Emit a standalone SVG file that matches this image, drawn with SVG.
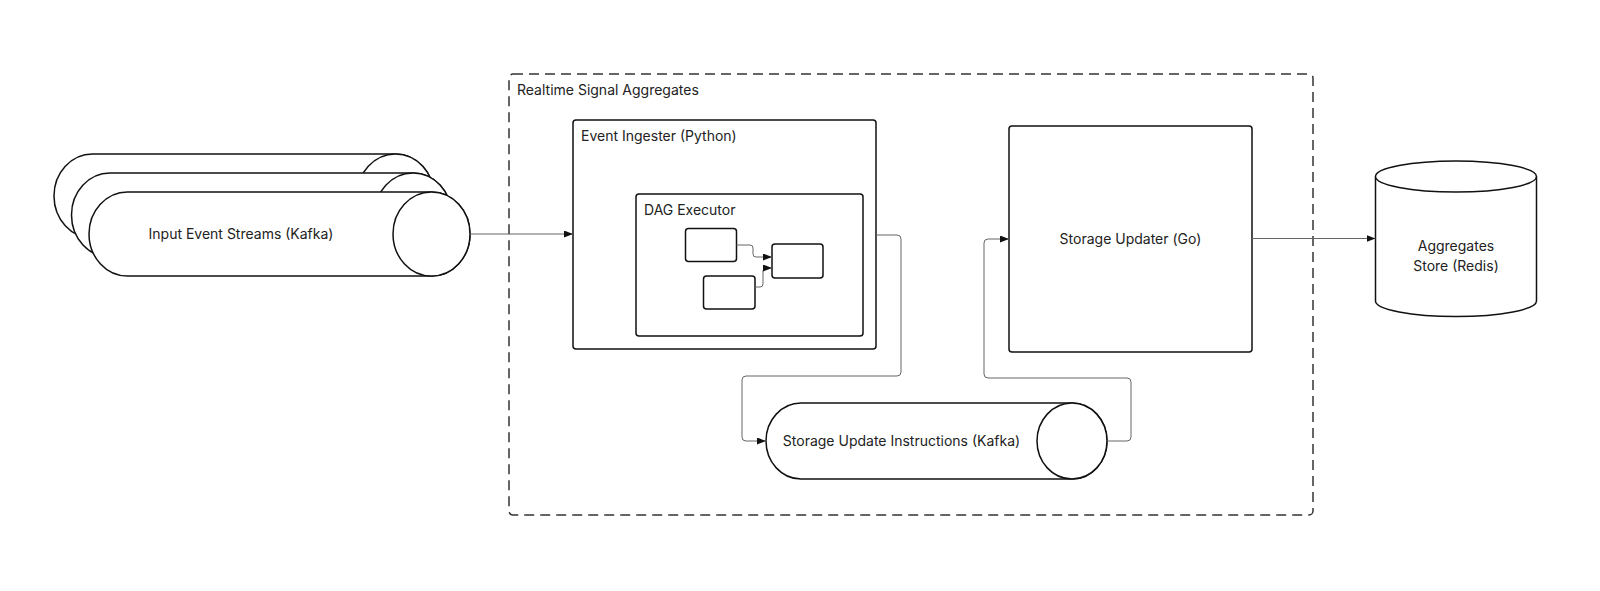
<svg xmlns="http://www.w3.org/2000/svg" width="1600" height="591" viewBox="0 0 1600 591">
  <defs>
    <style>
      .node { fill: #ffffff; stroke: #111111; stroke-width: 1.5; }
      .group { fill: none; stroke: #333333; stroke-width: 1.5; stroke-dasharray: 10 6; }
      .conn { fill: none; stroke: #666666; stroke-width: 1; }
      .lbl { font-family: Inter, "Liberation Sans", sans-serif; font-size: 14px; fill: #222222; }
      .mid { text-anchor: middle; }
    </style>
    <marker id="arrow" markerUnits="userSpaceOnUse" markerWidth="9" markerHeight="7" refX="9" refY="3.5" orient="auto">
      <path d="M0,0 L9,3.5 L0,7 Z" fill="#111111"/>
    </marker>
  </defs>
  <rect width="1600" height="591" fill="#ffffff"/>

  <g id="group-realtime">
    <rect class="group" x="509" y="74" width="804" height="441" rx="4"/>
    <text class="lbl" x="517" y="94.5">Realtime Signal Aggregates</text>
  </g>

  <g id="input-streams">
    <path class="node" d="M92.5,154 H395.5 A38.5,42 0 0 1 395.5,238 H92.5 A38.5,42 0 0 1 92.5,154 Z"/>
    <ellipse class="node" cx="395.5" cy="196" rx="38.5" ry="42"/>
    <path class="node" d="M110,173 H413 A38.5,42 0 0 1 413,257 H110 A38.5,42 0 0 1 110,173 Z"/>
    <ellipse class="node" cx="413" cy="215" rx="38.5" ry="42"/>
    <path class="node" d="M127.5,192 H431.5 A38.5,42 0 0 1 431.5,276 H127.5 A38.5,42 0 0 1 127.5,192 Z"/>
    <ellipse class="node" cx="431.5" cy="234" rx="38.5" ry="42"/>
    <text class="lbl mid" x="241" y="239">Input Event Streams (Kafka)</text>
  </g>

  <g id="event-ingester">
    <rect class="node" x="573" y="120" width="303" height="229" rx="3"/>
    <text class="lbl" x="581" y="140.5">Event Ingester (Python)</text>
  </g>

  <g id="dag-executor">
    <rect class="node" x="636" y="194" width="227" height="142" rx="3"/>
    <text class="lbl" x="644" y="214.5">DAG Executor</text>
  </g>

  <g id="dag-node-1">
    <rect class="node" x="685.5" y="228.5" width="51" height="33" rx="3"/>
  </g>
  <g id="dag-node-2">
    <rect class="node" x="703.5" y="276" width="51.5" height="33" rx="3"/>
  </g>
  <g id="dag-node-3">
    <rect class="node" x="772" y="244" width="51" height="34" rx="3"/>
  </g>

  <g id="storage-update-instructions">
    <path class="node" d="M801,403 H1072 A35,38 0 0 1 1072,479 H801 A35,38 0 0 1 801,403 Z"/>
    <ellipse class="node" cx="1072" cy="441" rx="35" ry="38"/>
    <text class="lbl mid" x="901.5" y="446">Storage Update Instructions (Kafka)</text>
  </g>

  <g id="storage-updater">
    <rect class="node" x="1009" y="126" width="243" height="226" rx="3"/>
    <text class="lbl mid" x="1130.5" y="243.5">Storage Updater (Go)</text>
  </g>

  <g id="aggregates-store">
    <path class="node" d="M1375.5,176.5 V301 A80.5,15.5 0 0 0 1536.5,301 V176.5"/>
    <ellipse class="node" cx="1456" cy="176.5" rx="80.5" ry="15.5"/>
    <text class="lbl mid" x="1456" y="250.5">Aggregates</text>
    <text class="lbl mid" x="1456" y="270.5">Store (Redis)</text>
  </g>

  <g id="connectors">
    <path class="conn" d="M470,234 H573" marker-end="url(#arrow)"/>
    <path class="conn" d="M876,235 H897 Q901,235 901,239 V372 Q901,376 897,376 H746 Q742,376 742,380 V437 Q742,441 746,441 H766" marker-end="url(#arrow)"/>
    <path class="conn" d="M1107,441 H1127 Q1131,441 1131,437 V382 Q1131,378 1127,378 H988 Q984,378 984,374 V243 Q984,239 988,239 H1009" marker-end="url(#arrow)"/>
    <path class="conn" d="M1252,238.5 H1375.5" marker-end="url(#arrow)"/>
    <path class="conn" d="M736.5,245 H750 Q753,245 753,248 V254 Q753,257 756,257 H772" marker-end="url(#arrow)"/>
    <path class="conn" d="M755,287 H760 Q763,287 763,284 V271 Q763,268 766,268 H772" marker-end="url(#arrow)"/>
  </g>
</svg>
